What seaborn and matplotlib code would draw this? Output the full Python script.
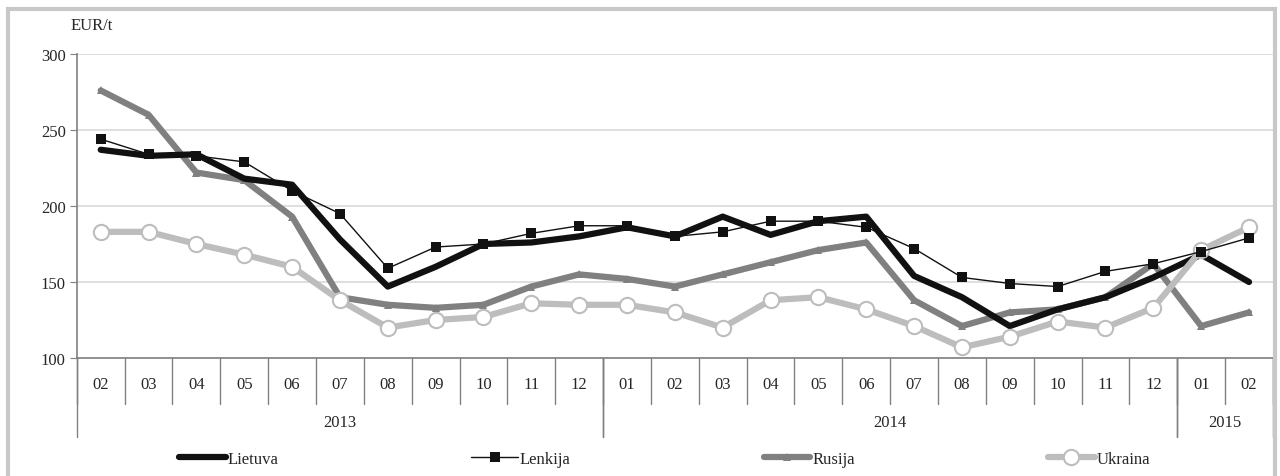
import numpy as np
import pandas as pd
import matplotlib
matplotlib.use("Agg")
import matplotlib.pyplot as plt
import matplotlib.transforms as mtransforms
from matplotlib.patches import Rectangle
import seaborn as sns

# data (EUR/t)
months = ['02', '03', '04', '05', '06', '07', '08', '09', '10', '11', '12',
          '01', '02', '03', '04', '05', '06', '07', '08', '09', '10', '11', '12',
          '01', '02']
years = ['2013', '2014', '2015']
year_spans = [(0, 10), (11, 22), (23, 24)]

lietuva = [237, 233, 234, 218, 214, 178, 147, 160, 175, 176, 180, 186,
           180, 193, 181, 190, 193, 154, 140, 121, 132, 140, 153, 168, 150]
lenkija = [244, 234, 233, 229, 210, 195, 159, 173, 175, 182, 187, 187,
           180, 183, 190, 190, 186, 172, 153, 149, 147, 157, 162, 170, 179]
rusija = [276, 260, 222, 217, 193, 140, 135, 133, 135, 147, 155, 152,
          147, 155, 163, 171, 176, 138, 121, 130, 132, 140, 162, 121, 130]
ukraina = [183, 183, 175, 168, 160, 138, 120, 125, 127, 136, 135, 135,
           130, 120, 138, 140, 132, 121, 107, 114, 124, 120, 133, 171, 186]

x = np.arange(len(months))
df = pd.DataFrame({'x': x, 'Lietuva': lietuva, 'Lenkija': lenkija,
                   'Rusija': rusija, 'Ukraina': ukraina})

sns.set_style("white")
plt.rcParams['font.family'] = ['Liberation Serif', 'DejaVu Serif']

fig = plt.figure(figsize=(12.8, 4.77), dpi=100)
ax = fig.add_axes([0.060, 0.2474, 0.9345, 0.6373])

# series
sns.lineplot(data=df, x='x', y='Rusija', ax=ax, color='#808080', lw=4.5,
             marker='^', markersize=6, markeredgewidth=0, label='Rusija')
sns.lineplot(data=df, x='x', y='Lietuva', ax=ax, color='#111111', lw=4.5,
             label='Lietuva')
sns.lineplot(data=df, x='x', y='Ukraina', ax=ax, color='#bdbdbd', lw=4.5,
             marker='o', markersize=11, markerfacecolor='white',
             markeredgecolor='#bdbdbd', markeredgewidth=1.5, label='Ukraina')
sns.lineplot(data=df, x='x', y='Lenkija', ax=ax, color='#111111', lw=1,
             marker='s', markersize=7, markeredgewidth=0, label='Lenkija')

ax.set_xlim(-0.5, len(months) - 0.5)
ax.set_ylim(100, 300)
ax.set_yticks([100, 150, 200, 250, 300])
ax.yaxis.grid(True, color='#d9d9d9', lw=1.2)
ax.set_xticks([])
ax.set_xlabel('')
ax.set_ylabel('')
for s in ['top', 'right']:
    ax.spines[s].set_visible(False)
for s in ['left', 'bottom']:
    ax.spines[s].set_color('#808080')
    ax.spines[s].set_linewidth(1.2)
ax.tick_params(axis='y', length=5, color='#808080', labelsize=12, pad=3,
               left=True)

ax.text(-0.005, 1.07, 'EUR/t', transform=ax.transAxes, fontsize=12,
        ha='left', va='bottom')

# category table under the axis
trans = mtransforms.blended_transform_factory(ax.transData, ax.transAxes)
for i in range(len(months) + 1):
    ax.plot([i - 0.5, i - 0.5], [0, -0.15], transform=trans, color='#808080',
            lw=1, clip_on=False)
for i, m in enumerate(months):
    ax.text(i, -0.085, m, transform=trans, ha='center', va='center',
            fontsize=12)
for (a, b), yr in zip(year_spans, years):
    for edge in (a - 0.5, b + 0.5):
        ax.plot([edge, edge], [0, -0.26], transform=trans, color='#808080',
                lw=1, clip_on=False)
    ax.text((a + b) / 2, -0.21, yr, transform=trans, ha='center',
            va='center', fontsize=12)

# legend in the original order
handles, labels = ax.get_legend_handles_labels()
order = ['Lietuva', 'Lenkija', 'Rusija', 'Ukraina']
hmap = dict(zip(labels, handles))
ax.legend([hmap[k] for k in order], order, loc='center',
          bbox_to_anchor=(0.519, 0.036), bbox_transform=fig.transFigure,
          ncol=4, frameon=False, fontsize=12, handlelength=2.8,
          handletextpad=0.1, columnspacing=11.6)

# outer frame
fig.patches.append(Rectangle((0.006, -0.01), 0.990, 0.99,
                             transform=fig.transFigure, fill=False,
                             edgecolor='#c8c8c8', lw=3))

fig.savefig('out.png', dpi=100)
